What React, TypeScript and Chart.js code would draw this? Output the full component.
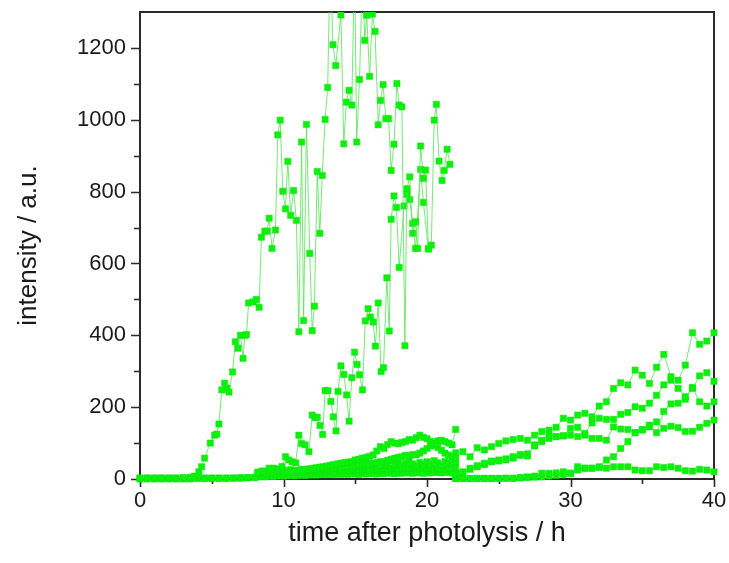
import React, { useEffect, useRef } from "react";
import { Chart, registerables } from "chart.js";

Chart.register(...registerables);

// ---- series A (large transient) ----
const A_T = [0,0.5,1,1.5,2,2.5,3,3.5,3.8,4.1,4.3,4.5,4.9,5.2,5.35,5.5,5.7,5.9,6.06,6.2,6.45,6.64,6.83,7.0,7.18,7.3,7.42,7.57,7.88,8.1,8.3,8.46,8.7,8.86,9.0,9.2,9.44,9.6,9.77,9.95,10.14,10.3,10.5,10.7,10.9,11.07,11.26,11.4,11.6,11.83,12.0,12.15,12.35,12.53,12.7,12.9,13.08,13.25,13.45,13.64,14.0,14.2,14.38,14.57,14.76,14.95,15.1,15.3,15.5,15.66,15.8,16.0,16.2,16.38,16.6,16.76,16.94,17.13,17.32,17.5,17.7,17.9,18.06,18.25,18.46,18.6,18.8,19.0,19.2,19.35,19.55,19.75,19.9,20.1,20.3,20.5,20.65,20.84,21.05,21.2,21.4,21.6];
const A_V = [3,3,3,3,3,3,4,5,8,20,34,58,100,122,125,153,248,267,253,242,298,382,364,400,336,400,402,490,493,500,478,673,690,690,726,642,693,958,999,801,752,884,734,803,720,410,938,441,987,628,413,481,856,684,845,1001,1090,1450,1209,1151,1292,933,1049,1082,1041,1450,938,1112,1420,1221,1291,1121,1294,1246,986,1054,1098,1003,1003,859,932,1101,1041,1036,371,808,841,684,716,642,927,837,860,642,651,999,1043,885,831,859,918,876];

// ---- series B (second transient) ----
const B_T = [8.2,8.6,9.0,9.3,9.6,9.9,10.14,10.36,10.6,10.85,11.07,11.26,11.5,11.77,12.0,12.2,12.35,12.54,12.73,12.9,13.1,13.3,13.47,13.66,13.8,14.0,14.2,14.4,14.57,14.76,14.95,15.13,15.3,15.5,15.7,15.9,16.06,16.25,16.4,16.6,16.8,16.97,17.2,17.37,17.5,17.7,17.87,18.06,18.4,18.6,18.8,19.0,19.2,19.55,19.75,20.1];
const B_V = [18,22,30,30,28,35,62,53,48,45,122,99,95,76,178,171,172,149,124,246,246,216,173,134,244,315,291,234,161,282,353,319,290,248,440,474,451,437,370,490,299,310,560,412,723,788,756,589,760,792,778,711,642,862,770,640];

// ---- low series, 0-22 h ----
const LOW_T = [0,0.5,1,1.5,2,2.5,3,3.5,4,4.5,5,5.5,6,6.5,7,7.5,8,8.25,8.5,8.75,9,9.25,9.5,9.75,10,10.25,10.5,10.75,11,11.25,11.5,11.75,12,12.25,12.5,12.75,13,13.25,13.5,13.75,14,14.25,14.5,14.75,15,15.25,15.5,15.75,16,16.25,16.5,16.75,17,17.25,17.5,17.75,18,18.25,18.5,18.75,19,19.25,19.5,19.75,20,20.25,20.5,20.75,21,21.25,21.5,21.75,22];
const L1_V = [2,2,2,2,2,2,2,2,3,3,3,3,3,3,4,4,5,
  6,7,6,8,7,8,9,8,9,10,9,10,11,10,11,12,11,12,13,12,13,12,14,13,14,13,15,14,13,15,14,16,15,14,16,15,17,16,15,17,16,18,17,16,18,17,16,18,17,19,18,17,19,18,17,16];
const L2_V = [0,0,0,0,0,0,0,0,1,1,1,1,1,2,2,3,4,
  14,15,13,16,17,15,18,16,17,19,18,20,18,21,19,22,20,21,23,22,24,21,25,23,24,26,24,27,25,26,28,26,29,27,28,30,27,29,31,28,30,32,29,31,28,30,33,29,31,28,32,30,27,31,29,33];
const L3_V = [null,null,null,null,null,null,null,null,null,null,null,null,null,null,null,null,null,
  19,22,18,24,20,23,21,25,19,26,22,24,27,21,28,24,30,25,29,33,26,31,35,28,34,38,30,36,40,33,44,37,42,35,48,39,45,52,41,47,38,44,50,42,36,46,40,48,43,51,45,38,49,44,53,47];
const D_V = [null,null,null,null,null,null,null,null,null,null,null,null,null,null,null,null,null,
  null,null,null,null,null,null,null,
  18,20,19,22,21,24,23,26,25,28,27,30,29,32,31,34,33,36,35,38,37,40,39,42,41,44,46,39,48,52,55,58,60,62,66,64,68,67,72,78,85,92,95,88,80,72,67,62,58];
const C_V = [null,null,null,null,null,null,null,null,null,null,null,null,null,null,null,null,null,
  null,null,null,null,null,null,null,null,null,null,null,
  22,24,26,27,29,31,33,34,36,38,40,42,44,46,47,48,53,55,58,60,63,67,78,90,85,96,104,100,98,102,104,110,108,115,122,116,112,105,100,106,108,104,100,95,138];

// ---- late series, 22-40 h ----
const R_T = [22,22.5,23,23.5,24,24.5,25,25.5,26,26.5,27,27.5,28,28.5,29,29.5,30,30.5,31,31.5,32,32.5,33,33.5,34,34.5,35,35.5,36,36.5,37,37.5,38,38.5,39,39.5,40];
const T1_V = [73,76,62,87,81,90,99,106,110,113,108,122,132,136,144,169,164,178,183,173,203,215,252,268,262,303,289,266,311,347,285,275,317,407,375,384,407];
const T2_V = [15,20,30,37,44,50,53,53,62,68,64,95,108,122,118,120,141,144,127,156,169,166,166,180,185,201,197,211,233,262,275,252,229,252,287,296,272];
const T3_V = [12,16,27,34,40,48,50,56,58,66,70,92,104,113,118,120,122,118,122,113,113,108,145,139,138,129,136,145,129,188,209,211,222,255,215,203,215];
const T4_V = [2,2,2,2,2,2,2,2,2,4,6,8,16,16,17,20,16,34,30,30,34,53,62,85,104,129,138,150,159,141,147,143,132,133,144,155,164];
const T5_V = [1,1,1,1,1,1,1,2,2,3,4,5,6,8,10,12,16,25,30,30,32,30,34,34,34,25,23,23,34,32,34,30,23,22,27,25,20];

// ---- axes ----
const X_MIN = 0, X_MAX = 40, X_STEP = 10;
const Y_MIN = 0, Y_MAX = 1300, Y_STEP = 200;
const X_MINOR = [5, 15, 25, 35];
const Y_MINOR = [100, 300, 500, 700, 900, 1100];
const X_TITLE = "time after photolysis / h";
const Y_TITLE = "intensity / a.u.";

const FONT = "'Liberation Sans', Arial, sans-serif";
const TEXT = "#1a1a1a";
const AXIS = "#2a2a2a";

function pts(t: number[], v: (number | null)[]) {
  const out: { x: number; y: number }[] = [];
  t.forEach((x, i) => {
    const y = v[i];
    if (y !== null && y !== undefined) out.push({ x, y });
  });
  return out;
}

const framePlugin = {
  id: "frame",
  beforeDatasetsDraw(chart: any) {
    const { ctx, chartArea: a, scales } = chart;
    const x = scales.x, y = scales.y;
    ctx.save();
    ctx.strokeStyle = AXIS;
    ctx.lineWidth = 2;
    ctx.strokeRect(a.left, a.top, a.right - a.left, a.bottom - a.top);
    ctx.lineWidth = 1.6;
    ctx.beginPath();
    for (let v = Y_MIN; v <= Y_MAX; v += Y_STEP) {
      const py = Math.round(y.getPixelForValue(v)) + 0.5;
      ctx.moveTo(a.left - 9, py); ctx.lineTo(a.left, py);
    }
    Y_MINOR.forEach((v) => {
      const py = Math.round(y.getPixelForValue(v)) + 0.5;
      ctx.moveTo(a.left - 6, py); ctx.lineTo(a.left, py);
    });
    for (let v = X_MIN; v <= X_MAX; v += X_STEP) {
      const px = Math.round(x.getPixelForValue(v)) + 0.5;
      ctx.moveTo(px, a.bottom); ctx.lineTo(px, a.bottom + 8);
    }
    X_MINOR.forEach((v) => {
      const px = Math.round(x.getPixelForValue(v)) + 0.5;
      ctx.moveTo(px, a.bottom); ctx.lineTo(px, a.bottom + 5);
    });
    ctx.stroke();
    ctx.restore();
  },
};

export default function App() {
  const ref = useRef<HTMLCanvasElement | null>(null);
  useEffect(() => {
    if (!ref.current) return;
    const mk = (data: { x: number; y: number }[]) => ({
      data,
      showLine: true,
      borderColor: "rgba(90,230,90,0.85)",
      borderWidth: 1,
      pointStyle: "rect",
      pointRadius: 4.4,
      pointBackgroundColor: "#0af20a",
      pointBorderColor: "#10e010",
      pointBorderWidth: 0.5,
      clip: { left: 6, right: 6, top: 0, bottom: 6 },
    });
    const datasets = [
      mk(pts(A_T, A_V)),
      mk(pts(B_T, B_V)),
      mk(pts(LOW_T, C_V)),
      mk(pts(LOW_T, D_V)),
      mk(pts(LOW_T, L3_V)),
      mk(pts(LOW_T, L2_V)),
      mk(pts(LOW_T, L1_V)),
      mk(pts(R_T, T1_V)),
      mk(pts(R_T, T2_V)),
      mk(pts(R_T, T3_V)),
      mk(pts(R_T, T4_V)),
      mk(pts(R_T, T5_V)),
    ];
    const chart = new Chart(ref.current, {
      type: "scatter",
      data: { datasets } as any,
      options: {
        animation: false,
        responsive: true,
        maintainAspectRatio: false,
        layout: { padding: { left: 0, right: 15, top: 12, bottom: 0 } },
        plugins: { legend: { display: false }, tooltip: { enabled: false } },
        scales: {
          x: {
            type: "linear",
            min: X_MIN,
            max: X_MAX,
            ticks: { stepSize: X_STEP, includeBounds: false, maxRotation: 0, padding: 9, color: TEXT, font: { family: FONT, size: 22 }, callback: (v: any) => String(v) },
            grid: { display: false, drawTicks: false },
            border: { display: false },
            title: { display: true, text: X_TITLE, color: TEXT, font: { family: FONT, size: 27 }, padding: { top: 0, bottom: 13 } },
            afterFit: (s: any) => { s.height = 84; s.paddingLeft = 0; s.paddingRight = 0; },
          },
          y: {
            type: "linear",
            min: Y_MIN,
            max: Y_MAX,
            ticks: { stepSize: Y_STEP, includeBounds: false, padding: 14, color: TEXT, font: { family: FONT, size: 22 }, callback: (v: any) => String(v) },
            grid: { display: false, drawTicks: false },
            border: { display: false },
            title: { display: true, text: Y_TITLE, color: TEXT, font: { family: FONT, size: 26 }, padding: { top: 13, bottom: 0 } },
            afterFit: (s: any) => { s.width = 140; s.paddingTop = 0; s.paddingBottom = 0; },
          },
        },
      } as any,
      plugins: [framePlugin],
    });
    return () => chart.destroy();
  }, []);
  return (
    <div style={{ position: "fixed", left: 0, top: 0, width: 729, height: 563, background: "#fff" }}>
      <canvas ref={ref} />
    </div>
  );
}
